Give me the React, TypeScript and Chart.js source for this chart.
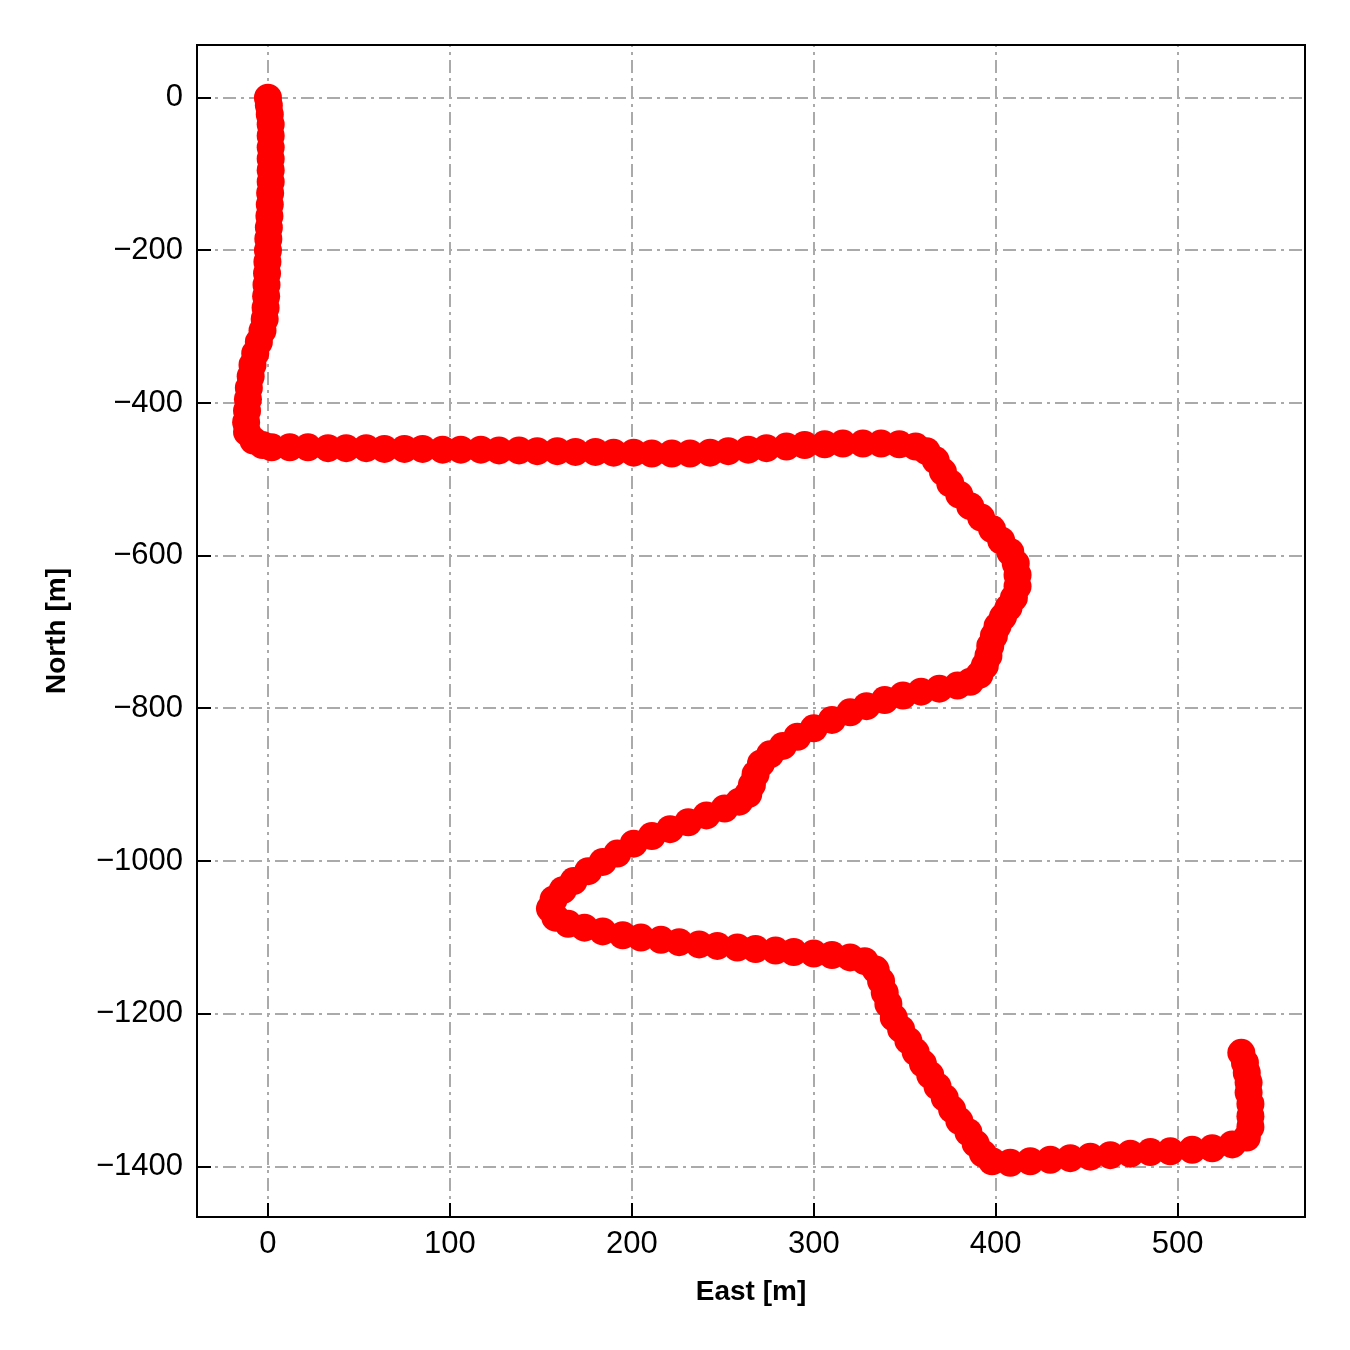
import React, { useEffect, useRef } from "react";
import { Chart, registerables } from "chart.js";

Chart.register(...registerables);

// Track coordinates (metres)
const eastValues: number[] = [
  0, 0.5, 1, 1.5, 1.5, 1.5, 1.5, 1.5, 1.5, 1.2, 1, 0.8, 0.5, 0.2, 0, -0.3, -0.5, -0.8, -1, -1.3, -1.8, -3, -5, -7, -8.5, -9.5, -10.5, -11, -11.5, -12, -11.5, -8, -3,
  2, 12, 22, 33, 43, 54, 64, 75, 85, 96, 106, 117, 127, 138, 148, 159, 169, 180, 190, 201, 211, 222, 232, 243, 253, 264, 274, 285, 295, 306, 316, 327, 337, 347, 356, 362,
  367, 371, 375, 380, 386, 392, 398, 403, 408, 411, 412, 412, 410, 407, 404, 401, 399, 397, 396, 394, 391, 386, 379,
  369, 359, 349, 339, 329, 320, 310, 300, 291, 283, 276, 271, 268, 266, 264, 259, 251, 241, 231, 221, 211, 201, 192, 184, 176, 168, 162, 157, 155, 158, 165,
  174, 184, 195, 205, 216, 226, 237, 247, 258, 268, 279, 289, 300, 310, 320, 328, 334, 337, 339, 341,
  344, 348, 352, 356, 360, 364, 368, 372, 376, 380, 385, 389, 393, 398,
  408, 419, 430, 441, 452, 463, 474, 485, 496, 508, 519, 530, 538, 540, 540, 540, 539, 539, 538, 537, 535,
];
const northValues: number[] = [
  0, -10, -22, -35, -50, -65, -80, -95, -110, -125, -140, -155, -170, -185, -200, -215, -230, -245, -260, -275, -290, -305, -320, -335, -350, -365, -380, -395, -410, -425, -438, -449, -455,
  -458, -458, -458, -459, -459, -459, -460, -460, -460, -461, -461, -461, -462, -462, -463, -463, -464, -464, -465, -465, -466, -466, -466, -465, -463, -461, -459, -457, -455, -454, -453, -453, -453, -454, -457, -463,
  -475, -490, -505, -520, -535, -550, -565, -580, -595, -610, -625, -640, -655, -668, -680, -692, -705, -718, -731, -744, -756, -765, -770,
  -774, -778, -783, -789, -797, -805, -815, -826, -837, -849, -860, -872, -886, -900, -912, -922, -931, -940, -949, -958, -967, -977, -990, -1001, -1013, -1026, -1038, -1050, -1062, -1074, -1082,
  -1087, -1092, -1097, -1100, -1103, -1106, -1109, -1111, -1113, -1115, -1117, -1119, -1121, -1123, -1126, -1131, -1142, -1157, -1172, -1187,
  -1205, -1220, -1235, -1250, -1265, -1280, -1295, -1310, -1325, -1340, -1355, -1370, -1383, -1393,
  -1395, -1393, -1391, -1389, -1387, -1385, -1383, -1381, -1380, -1378, -1376, -1371, -1362, -1348, -1334, -1318, -1303, -1290, -1277, -1264, -1251,
];

const xTickValues = [0, 100, 200, 300, 400, 500];
const yTickValues = [0, -200, -400, -600, -800, -1000, -1200, -1400];
const xLimits = [-39, 570];
const yLimits = [-1466, 69];
const xLabel = "East [m]";
const yLabel = "North [m]";

const FONT = "'Liberation Sans', Arial, Helvetica, sans-serif";

const fmt = (v: number | string) => {
  const n = Number(v);
  return n < 0 ? "\u2212" + Math.abs(n) : String(n);
};

const framePlugin = {
  id: "frame",
  beforeDatasetsDraw(chart: any) {
    const { ctx, chartArea: a, scales } = chart;
    ctx.save();
    ctx.beginPath();
    ctx.rect(a.left, a.top, a.right - a.left, a.bottom - a.top);
    ctx.clip();
    ctx.strokeStyle = "#aaaaaa";
    ctx.lineWidth = 2;
    ctx.setLineDash([13, 5, 3, 5]);
    for (const t of scales.x.ticks) {
      const px = Math.round(scales.x.getPixelForValue(t.value));
      ctx.beginPath();
      ctx.moveTo(px, a.bottom);
      ctx.lineTo(px, a.top);
      ctx.stroke();
    }
    for (const t of scales.y.ticks) {
      const py = Math.round(scales.y.getPixelForValue(t.value));
      ctx.beginPath();
      ctx.moveTo(a.left, py);
      ctx.lineTo(a.right, py);
      ctx.stroke();
    }
    ctx.restore();
  },
  afterDatasetsDraw(chart: any) {
    const { ctx, chartArea: a, scales } = chart;
    ctx.save();
    ctx.setLineDash([]);
    ctx.strokeStyle = "#000";
    ctx.lineWidth = 2;
    for (const t of scales.x.ticks) {
      const px = Math.round(scales.x.getPixelForValue(t.value));
      ctx.beginPath();
      ctx.moveTo(px, a.bottom);
      ctx.lineTo(px, a.bottom - 14);
      ctx.stroke();
    }
    for (const t of scales.y.ticks) {
      const py = Math.round(scales.y.getPixelForValue(t.value));
      ctx.beginPath();
      ctx.moveTo(a.left, py);
      ctx.lineTo(a.left + 14, py);
      ctx.stroke();
    }
    ctx.strokeRect(a.left, a.top, a.right - a.left, a.bottom - a.top);
    ctx.restore();
  },
};

export default function App() {
  const ref = useRef<HTMLCanvasElement | null>(null);
  useEffect(() => {
    if (!ref.current) return;
    const points = eastValues.map((x, i) => ({ x, y: northValues[i] }));
    const chart = new Chart(ref.current, {
      type: "line",
      data: {
        datasets: [
          {
            data: points,
            borderColor: "#ff0000",
            backgroundColor: "#ff0000",
            borderWidth: 17,
            borderJoinStyle: "round",
            borderCapStyle: "round",
            pointRadius: 14,
            pointBorderWidth: 0,
            pointHoverRadius: 14,
            tension: 0,
          },
        ],
      },
      options: {
        animation: false,
        responsive: false,
        events: [],
        layout: { padding: { top: 45, right: 45, left: 0, bottom: 0 } },
        plugins: { legend: { display: false }, tooltip: { enabled: false } },
        scales: {
          x: {
            type: "linear",
            min: xLimits[0],
            max: xLimits[1],
            afterBuildTicks: (s: any) => {
              s.ticks = xTickValues.map((v) => ({ value: v }));
            },
            afterFit: (s: any) => {
              s.height = 133;
            },
            grid: { display: false, drawTicks: false },
            border: { display: false },
            ticks: {
              color: "#000",
              padding: 9,
              maxRotation: 0,
              autoSkip: false,
              font: { family: FONT, size: 31 },
              callback: fmt,
            },
            title: {
              display: true,
              text: xLabel,
              color: "#000",
              font: { family: FONT, size: 28, weight: "bold" },
              padding: { top: 0, bottom: 41 },
            },
          },
          y: {
            type: "linear",
            min: yLimits[0],
            max: yLimits[1],
            afterBuildTicks: (s: any) => {
              s.ticks = yTickValues.map((v) => ({ value: v }));
            },
            afterFit: (s: any) => {
              s.width = 197;
            },
            grid: { display: false, drawTicks: false },
            border: { display: false },
            ticks: {
              color: "#000",
              padding: 14,
              autoSkip: false,
              font: { family: FONT, size: 31 },
              callback: fmt,
            },
            title: {
              display: true,
              text: yLabel,
              color: "#000",
              font: { family: FONT, size: 28, weight: "bold" },
              padding: { top: 40, bottom: 0 },
            },
          },
        },
      },
      plugins: [framePlugin],
    } as any);
    return () => chart.destroy();
  }, []);

  return (
    <div
      style={{
        position: "fixed",
        left: 0,
        top: 0,
        width: 1350,
        height: 1350,
        background: "#fff",
      }}
    >
      <canvas ref={ref} width={1350} height={1350} style={{ display: "block" }} />
    </div>
  );
}
